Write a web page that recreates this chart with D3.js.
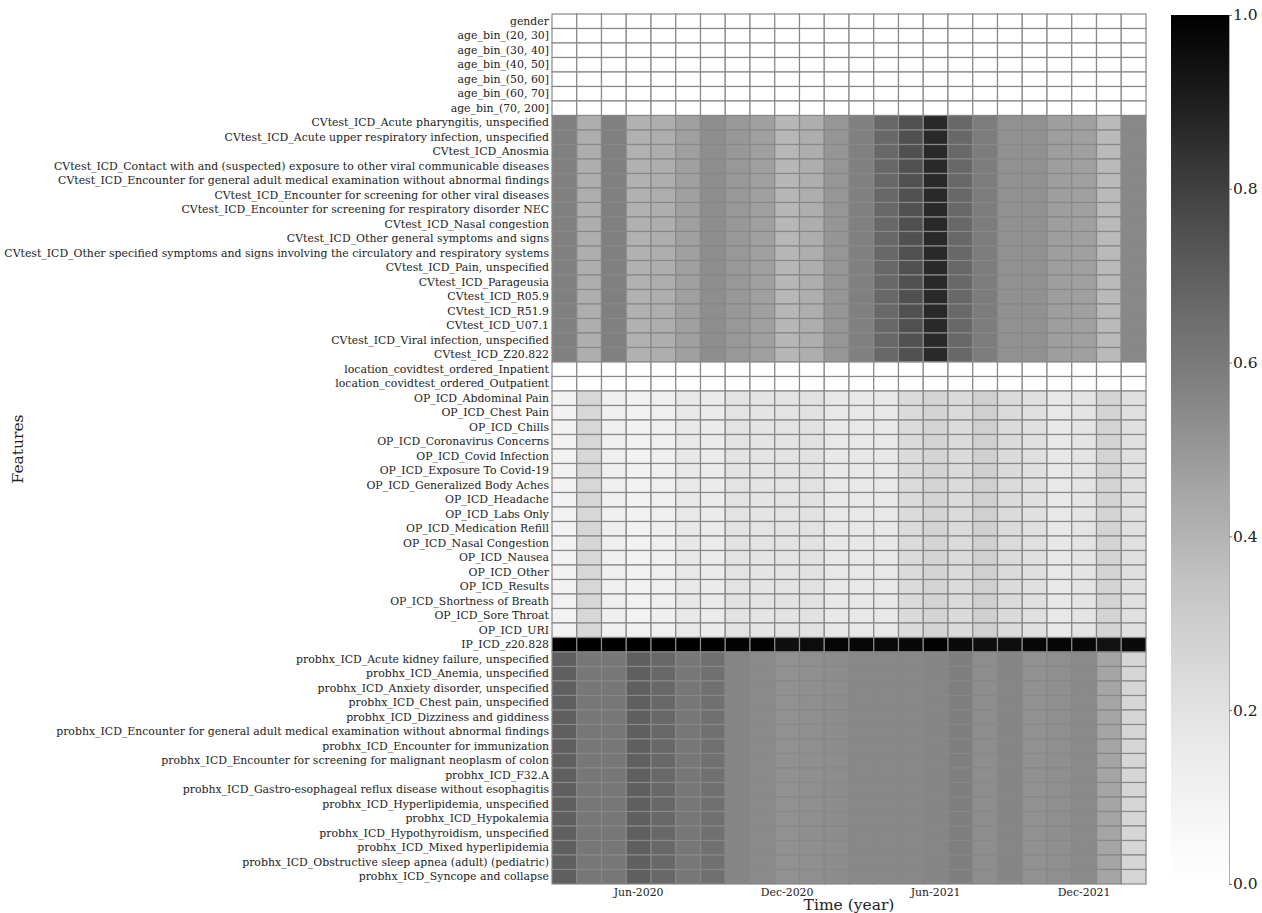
<!DOCTYPE html>
<html>
<head>
<meta charset="utf-8">
<script src="https://cdn.jsdelivr.net/npm/d3@7"></script>
<style>
  body { margin: 0; background: #fff; }
  svg text { font-family: "DejaVu Serif", serif; fill: #222; }
</style>
</head>
<body>
<div id="chart"></div>
<script>
const months = ['Mar-2020','Apr-2020','May-2020','Jun-2020','Jul-2020','Aug-2020','Sep-2020','Oct-2020',
  'Nov-2020','Dec-2020','Jan-2021','Feb-2021','Mar-2021','Apr-2021','May-2021','Jun-2021','Jul-2021',
  'Aug-2021','Sep-2021','Oct-2021','Nov-2021','Dec-2021','Jan-2022','Feb-2022'];
const tickMonths = ['Jun-2020', 'Dec-2020', 'Jun-2021', 'Dec-2021'];
const colorTicks = [0, 0.2, 0.4, 0.6, 0.8, 1.0];

const demoFeatures = ['gender', 'age_bin_(20, 30]', 'age_bin_(30, 40]', 'age_bin_(40, 50]',
  'age_bin_(50, 60]', 'age_bin_(60, 70]', 'age_bin_(70, 200]'];
const cvtestFeatures = [
  'CVtest_ICD_Acute pharyngitis, unspecified',
  'CVtest_ICD_Acute upper respiratory infection, unspecified',
  'CVtest_ICD_Anosmia',
  'CVtest_ICD_Contact with and (suspected) exposure to other viral communicable diseases',
  'CVtest_ICD_Encounter for general adult medical examination without abnormal findings',
  'CVtest_ICD_Encounter for screening for other viral diseases',
  'CVtest_ICD_Encounter for screening for respiratory disorder NEC',
  'CVtest_ICD_Nasal congestion',
  'CVtest_ICD_Other general symptoms and signs',
  'CVtest_ICD_Other specified symptoms and signs involving the circulatory and respiratory systems',
  'CVtest_ICD_Pain, unspecified',
  'CVtest_ICD_Parageusia',
  'CVtest_ICD_R05.9',
  'CVtest_ICD_R51.9',
  'CVtest_ICD_U07.1',
  'CVtest_ICD_Viral infection, unspecified',
  'CVtest_ICD_Z20.822'];
const locationFeatures = ['location_covidtest_ordered_Inpatient', 'location_covidtest_ordered_Outpatient'];
const opFeatures = ['OP_ICD_Abdominal Pain', 'OP_ICD_Chest Pain', 'OP_ICD_Chills', 'OP_ICD_Coronavirus Concerns',
  'OP_ICD_Covid Infection', 'OP_ICD_Exposure To Covid-19', 'OP_ICD_Generalized Body Aches', 'OP_ICD_Headache',
  'OP_ICD_Labs Only', 'OP_ICD_Medication Refill', 'OP_ICD_Nasal Congestion', 'OP_ICD_Nausea', 'OP_ICD_Other',
  'OP_ICD_Results', 'OP_ICD_Shortness of Breath', 'OP_ICD_Sore Throat', 'OP_ICD_URI'];
const ipFeatures = ['IP_ICD_z20.828'];
const probhxFeatures = [
  'probhx_ICD_Acute kidney failure, unspecified',
  'probhx_ICD_Anemia, unspecified',
  'probhx_ICD_Anxiety disorder, unspecified',
  'probhx_ICD_Chest pain, unspecified',
  'probhx_ICD_Dizziness and giddiness',
  'probhx_ICD_Encounter for general adult medical examination without abnormal findings',
  'probhx_ICD_Encounter for immunization',
  'probhx_ICD_Encounter for screening for malignant neoplasm of colon',
  'probhx_ICD_F32.A',
  'probhx_ICD_Gastro-esophageal reflux disease without esophagitis',
  'probhx_ICD_Hyperlipidemia, unspecified',
  'probhx_ICD_Hypokalemia',
  'probhx_ICD_Hypothyroidism, unspecified',
  'probhx_ICD_Mixed hyperlipidemia',
  'probhx_ICD_Obstructive sleep apnea (adult) (pediatric)',
  'probhx_ICD_Syncope and collapse'];

// one row of values per feature group (all features of a group share it)
const demoValues = [0,0,0,0,0,0,0,0,0,0,0,0,0,0,0,0,0,0,0,0,0,0,0,0];
const cvtestValues = [0.579,0.423,0.579,0.41,0.423,0.468,0.529,0.494,0.468,0.391,0.423,0.503,
  0.579,0.667,0.75,0.867,0.667,0.593,0.521,0.521,0.474,0.468,0.378,0.55];
const locationValues = [0,0,0,0,0,0,0,0,0,0,0,0,0,0,0,0,0,0,0,0,0,0,0,0];
const opValues = [0.10,0.254,0.125,0.10,0.125,0.168,0.146,0.196,0.19,0.196,0.201,0.168,
  0.168,0.168,0.234,0.272,0.234,0.29,0.234,0.212,0.168,0.19,0.272,0.212];
const ipValues = [1.0,1.0,1.0,1.0,1.0,1.0,1.0,0.99,0.99,0.95,0.96,0.98,
  0.976,0.97,0.973,0.993,0.966,0.953,0.953,0.973,0.98,0.973,0.94,0.966];
const probhxValues = [0.70,0.61,0.61,0.70,0.667,0.61,0.636,0.56,0.543,0.52,0.525,0.532,
  0.55,0.55,0.55,0.557,0.582,0.529,0.557,0.52,0.525,0.543,0.452,0.26];

const groups = [
  { features: demoFeatures, values: demoValues },
  { features: cvtestFeatures, values: cvtestValues },
  { features: locationFeatures, values: locationValues },
  { features: opFeatures, values: opValues },
  { features: ipFeatures, values: ipValues },
  { features: probhxFeatures, values: probhxValues }
];

const features = [];
const cells = [];
groups.forEach(g => {
  g.features.forEach(f => {
    features.push(f);
    g.values.forEach((v, i) => cells.push({ feature: f, month: months[i], value: v }));
  });
});

const width = 1262, height = 913;
const plot = { left: 552, right: 1146, top: 14, bottom: 884 };

const svg = d3.select('#chart').append('svg')
  .attr('width', width)
  .attr('height', height);

const x = d3.scaleBand().domain(months).range([plot.left, plot.right]);
const y = d3.scaleBand().domain(features).range([plot.top, plot.bottom]);
const color = d3.scaleSequential(d3.interpolateGreys).domain([0, 1]);

// Cellules
svg.append('g')
  .selectAll('rect')
  .data(cells)
  .enter()
  .append('rect')
  .attr('x', d => x(d.month))
  .attr('y', d => y(d.feature))
  .attr('width', x.bandwidth())
  .attr('height', y.bandwidth())
  .attr('fill', d => color(d.value))
  .attr('stroke', '#888')
  .attr('stroke-width', 1.2);

// Axe Y
const yAxis = svg.append('g')
  .attr('transform', `translate(${plot.left},0)`)
  .call(d3.axisLeft(y).tickSize(0).tickPadding(3));
yAxis.select('.domain').remove();
yAxis.selectAll('text').style('font-size', '10.9px');

// Axe X
const xAxis = svg.append('g')
  .attr('transform', `translate(0,${plot.bottom})`)
  .call(d3.axisBottom(x).tickValues(tickMonths).tickSize(0).tickPadding(4));
xAxis.select('.domain').remove();
xAxis.selectAll('text').style('font-size', '10.9px');

svg.append('text')
  .attr('x', (plot.left + plot.right) / 2)
  .attr('y', 910)
  .attr('text-anchor', 'middle')
  .style('font-size', '15.5px')
  .text('Time (year)');

svg.append('text')
  .attr('transform', `translate(23,${(plot.top + plot.bottom) / 2}) rotate(-90)`)
  .attr('text-anchor', 'middle')
  .style('font-size', '15.5px')
  .text('Features');

// Barre de couleur
const cb = { left: 1171, width: 58, top: 15, bottom: 884 };
const grad = svg.append('defs').append('linearGradient')
  .attr('id', 'cbar')
  .attr('x1', 0).attr('y1', 1).attr('x2', 0).attr('y2', 0);
d3.range(0, 1.0001, 0.05).forEach(t => {
  grad.append('stop').attr('offset', t).attr('stop-color', color(t));
});
svg.append('rect')
  .attr('x', cb.left)
  .attr('y', cb.top)
  .attr('width', cb.width)
  .attr('height', cb.bottom - cb.top)
  .attr('fill', 'url(#cbar)');

const cScale = d3.scaleLinear().domain([0, 1]).range([cb.bottom, cb.top]);
const cAxis = svg.append('g')
  .attr('transform', `translate(${cb.left + cb.width},0)`)
  .call(d3.axisRight(cScale).tickValues(colorTicks).tickFormat(d3.format('.1f')).tickSize(3).tickPadding(1));
cAxis.select('.domain').attr('stroke', '#aaa');
cAxis.selectAll('.tick line').attr('stroke', '#777');
cAxis.selectAll('text').style('font-size', '15.5px');
</script>
</body>
</html>
